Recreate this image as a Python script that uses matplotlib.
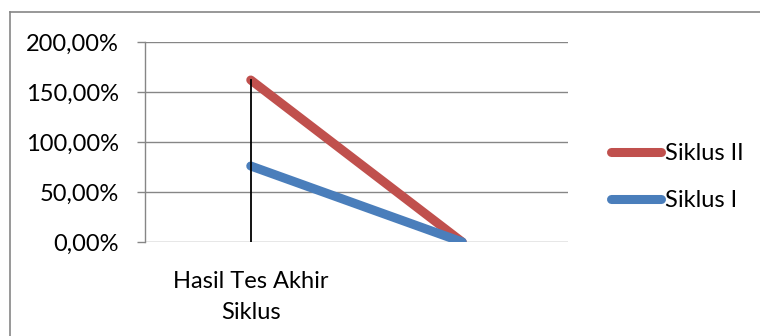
import matplotlib.pyplot as plt
import numpy as np

# data
categories = ['Hasil Tes Akhir\nSiklus', '']
siklus_1 = [0.76, 0.0]
siklus_2 = [1.62, 0.0]
y_ticks = [0.0, 0.5, 1.0, 1.5, 2.0]

RED = '#C0504D'
BLUE = '#4A7EBB'
GRID = '#868686'

plt.rcParams['font.family'] = ['Lato', 'DejaVu Sans']

fig = plt.figure(figsize=(7.6, 3.36), dpi=100)
ax = fig.add_axes([145 / 760, 1 - 242 / 336, 423 / 760, 200 / 336])

x = np.arange(len(categories))
ax.plot(x, siklus_2, color=RED, lw=6.5, solid_capstyle='round', label='Siklus II', zorder=3)
ax.plot(x, siklus_1, color=BLUE, lw=6.5, solid_capstyle='round', label='Siklus I', zorder=3)

# drop line (high-low) at each category
for i in range(len(categories)):
    lo = min(siklus_1[i], siklus_2[i], 0)
    hi = max(siklus_1[i], siklus_2[i])
    ax.plot([x[i], x[i]], [lo, hi], color='black', lw=1.3, zorder=4)

ax.set_xlim(-0.5, len(categories) - 0.5)
ax.set_ylim(0, 2.0)
ax.set_yticks(y_ticks)
ax.set_yticklabels([f'{v * 100:.2f}%'.replace('.', ',') for v in y_ticks], fontsize=17)
ax.set_xticks(x)
ax.set_xticklabels(categories, fontsize=17, linespacing=1.6)
ax.tick_params(axis='x', length=0, pad=21)
ax.tick_params(axis='y', length=6, width=1, color=GRID, pad=13)

ax.grid(axis='y', color=GRID, lw=1)
ax.set_axisbelow(True)
for side in ['top', 'right', 'bottom']:
    ax.spines[side].set_visible(False)
ax.spines['left'].set_color(GRID)
ax.spines['left'].set_linewidth(1)

leg = fig.legend(loc='center left', bbox_to_anchor=(611 / 760, 1 - 177 / 336),
                 frameon=False, fontsize=17, handlelength=2.1, handletextpad=0.2,
                 labelspacing=1.1, borderpad=0, borderaxespad=0)
for h in leg.get_lines():
    h.set_solid_capstyle('round')

# outer chart frame (only top and left edges are visible)
fig.add_artist(plt.Line2D([10 / 760, 1], [1 - 12 / 336, 1 - 12 / 336],
                          transform=fig.transFigure, color=GRID, lw=1.2))
fig.add_artist(plt.Line2D([10 / 760, 10 / 760], [0, 1 - 12 / 336],
                          transform=fig.transFigure, color=GRID, lw=1.2))

fig.savefig('out.png', dpi=100)
